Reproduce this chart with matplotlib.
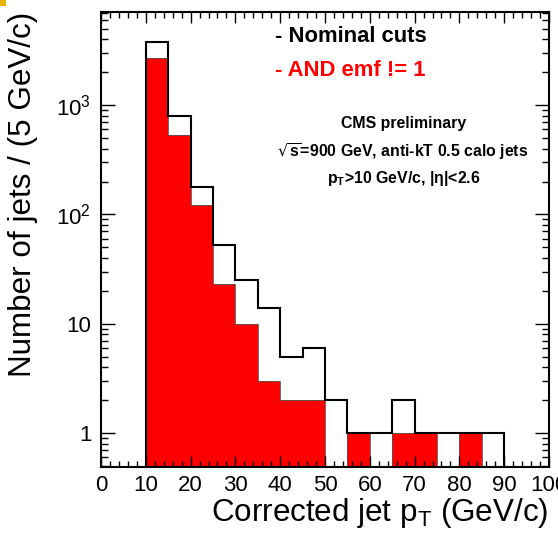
import matplotlib
matplotlib.use('Agg')
import matplotlib.pyplot as plt
import numpy as np
from matplotlib.ticker import FixedLocator, FuncFormatter, LogLocator, NullFormatter, MultipleLocator
from matplotlib.patches import Rectangle

plt.rcParams['font.family'] = ['Liberation Sans', 'DejaVu Sans']
plt.rcParams['mathtext.default'] = 'regular'

# 5 GeV bins from 10 to 90 GeV/c
EDGES = np.arange(10, 95, 5)
NOMINAL = [3750, 788, 177, 52, 25, 14, 5, 6, 2, 1, 1, 2, 1, 1, 1, 1]
EMF_CUT = [2675, 536, 123, 23, 10, 3, 2, 2, 0, 1, 0, 1, 1, 0, 1, 0]

W, H = 558, 533
fig = plt.figure(figsize=(W / 100, H / 100), dpi=100)
ax = fig.add_axes([101 / W, 1 - 467 / H, 448 / W, 455 / H])
ax.set_yscale('log')

FLOOR = 1e-3
red = np.array(EMF_CUT, dtype=float)
red[red <= 0] = FLOOR
ax.stairs(red, EDGES, fill=True, baseline=FLOOR, facecolor='#ff0000',
          edgecolor='#ff0000', lw=0)
ax.stairs(red, EDGES, fill=False, baseline=FLOOR, color='#555555', lw=0.6)
ax.stairs(NOMINAL, EDGES, fill=False, baseline=FLOOR, color='black', lw=1.5)

ax.set_xlim(0, 100)
ax.set_ylim(0.49, 7100)

for s in ax.spines.values():
    s.set_linewidth(1.5)

ax.xaxis.set_major_locator(MultipleLocator(10))
ax.xaxis.set_minor_locator(MultipleLocator(2))
ax.yaxis.set_major_locator(FixedLocator([1, 10, 100, 1000]))
ax.yaxis.set_minor_locator(LogLocator(base=10, subs=np.arange(2, 10)))
ax.yaxis.set_minor_formatter(NullFormatter())
YLABELS = {1: '1', 10: '10', 100: '$10^2$', 1000: '$10^3$'}
ax.yaxis.set_major_formatter(FuncFormatter(lambda v, p: YLABELS.get(int(round(v)), '')))

ax.tick_params(which='both', direction='in', top=True, right=True, width=1.0, labelsize=16)
ax.tick_params(axis='x', which='major', length=8, pad=6)
ax.tick_params(axis='x', which='minor', length=4.5)
ax.tick_params(axis='y', which='major', length=10, pad=7)
ax.tick_params(axis='y', which='minor', length=5)

fig.text(548 / W, 1 - 521 / H, 'Corrected jet p$_T$ (GeV/c)', ha='right', va='baseline', fontsize=22.6)
fig.text(38 / W, 1 - 12 / H, 'Number of jets / (5 GeV/c)', ha='right', va='bottom',
         rotation=90, rotation_mode='anchor', fontsize=22.6)

fig.text(275 / W, 1 - 36 / H, '- Nominal cuts', ha='left', va='center', fontsize=15.8,
         fontweight='bold', color='black')
fig.text(275 / W, 1 - 70 / H, '- AND emf != 1', ha='left', va='center', fontsize=15.8,
         fontweight='bold', color='#ff0000')

fig.text(404 / W, 1 - 123 / H, 'CMS preliminary', ha='center', va='center', fontsize=11.4, fontweight='bold')
fig.text(403 / W, 1 - 152 / H, r'$\sqrt{s}$=900 GeV, anti-kT 0.5 calo jets', ha='center', va='center',
         fontsize=11.4, fontweight='bold')
fig.text(404 / W, 1 - 179 / H, 'p$_T$>10 GeV/c, |η|<2.6', ha='center', va='center',
         fontsize=11.4, fontweight='bold')

fig.patches.append(Rectangle((0, 1 - 6 / H), 6 / W, 6 / H, transform=fig.transFigure,
                             facecolor='#e8b400', edgecolor='none'))

fig.savefig('out.png', dpi=100)
